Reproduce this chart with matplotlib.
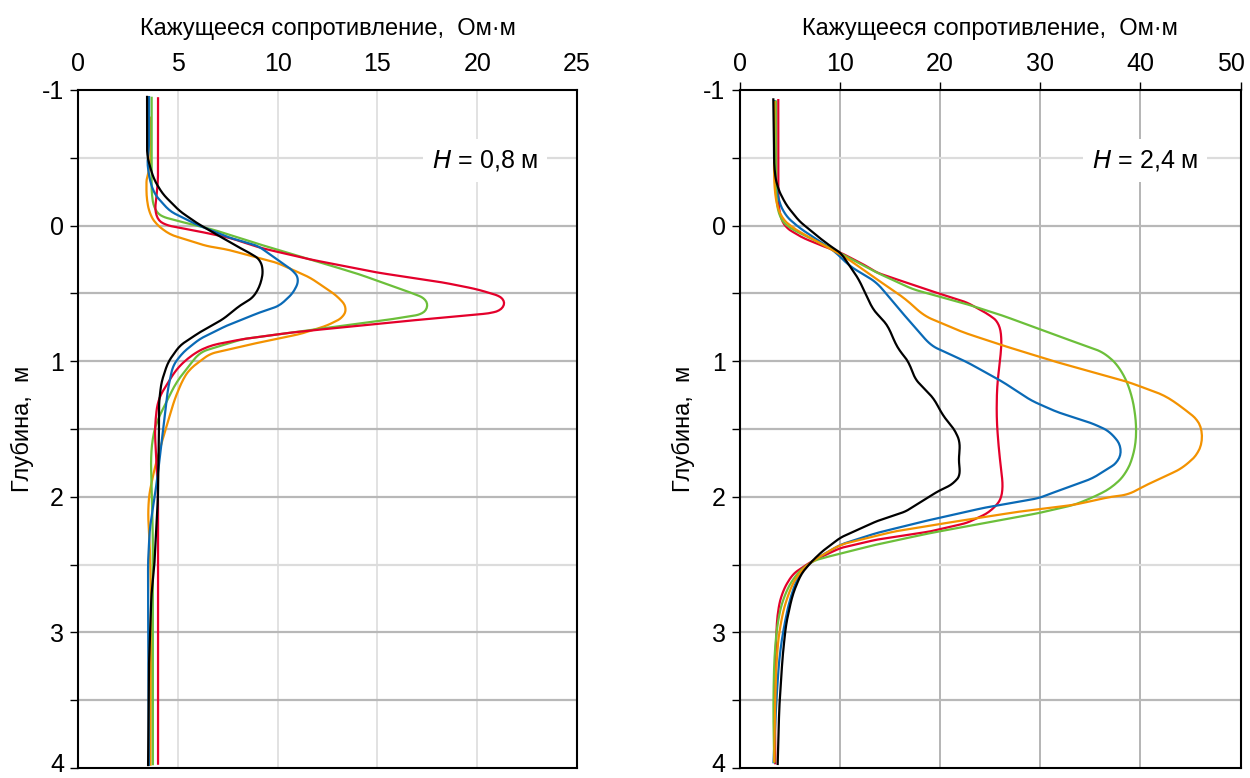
import numpy as np
import matplotlib.pyplot as plt
from matplotlib.transforms import ScaledTranslation

plt.rcParams['font.family'] = ['Liberation Sans Narrow', 'Liberation Sans', 'DejaVu Sans']

# ---- left panel, H = 0.8 m : (resistivity, depth)
l_red_r = [4.01, 4.01, 4.0, 3.9, 3.84, 4.26, 5.94, 7.6, 9.12, 11.6, 15.0, 18.3, 20.0, 21.35, 21.5, 21.35,
           20.8, 17.5, 14.1, 10.8, 8.3, 6.6, 5.77, 4.93, 4.43, 4.0, 3.93, 3.84, 3.93, 4.01, 4.01]
l_red_d = [-0.97, -0.4, -0.28, -0.2, -0.057, -0.007, 0.04, 0.09, 0.164, 0.249, 0.347, 0.42, 0.47, 0.53, 0.567, 0.615,
           0.645, 0.689, 0.738, 0.787, 0.836, 0.885, 0.946, 1.056, 1.18, 1.277, 1.374, 1.497, 1.74, 1.985, 4.0]

l_green_r = [3.69, 3.69, 3.68, 3.84, 4.1, 5.1, 6.77, 9.12, 9.96, 11.63, 14.1, 16.66, 17.5, 17.6, 17.3, 15.8,
             13.3, 10.8, 8.28, 6.1, 5.44, 4.93, 4.43, 3.93, 3.73, 3.65, 3.7, 3.75, 3.75]
l_green_d = [-0.97, -0.4, -0.23, -0.106, -0.07, -0.03, 0.03, 0.14, 0.176, 0.249, 0.36, 0.494, 0.543, 0.604, 0.653, 0.689,
             0.738, 0.787, 0.836, 0.934, 1.058, 1.154, 1.30, 1.45, 1.57, 1.72, 1.985, 2.3, 4.0]

l_blue_r = [3.56, 3.56, 3.46, 3.6, 3.84, 4.6, 5.94, 7.6, 9.03, 9.96, 10.8, 11.1, 10.8, 10.1, 9.12, 7.45, 6.1,
            5.27, 4.76, 4.51, 4.35, 4.18, 3.93, 3.6, 3.51, 3.51, 3.55]
l_blue_d = [-0.97, -0.57, -0.47, -0.33, -0.23, -0.106, -0.007, 0.09, 0.151, 0.249, 0.335, 0.396, 0.494, 0.591, 0.64, 0.738, 0.836,
            0.934, 1.03, 1.20, 1.40, 1.62, 1.91, 2.23, 2.475, 2.72, 4.0]

l_orange_r = [3.63, 3.63, 3.43, 3.43, 3.6, 3.93, 4.6, 6.44, 7.45, 9.96, 11.63, 12.97, 13.5, 13.3, 12.47, 11.13,
              9.12, 6.6, 5.6, 5.27, 4.85, 4.6, 4.3, 3.84, 3.56, 3.51, 3.6, 3.66, 3.63]
l_orange_d = [-0.82, -0.42, -0.375, -0.2, -0.08, -0.007, 0.066, 0.151, 0.176, 0.274, 0.384, 0.518, 0.604, 0.677, 0.738, 0.80,
              0.861, 0.946, 1.058, 1.13, 1.277, 1.40, 1.545, 1.79, 1.985, 2.13, 2.38, 2.72, 4.0]

l_black_r = [3.46, 3.46, 3.63, 3.84, 4.26, 5.1, 5.94, 6.94, 8.1, 8.45, 9.12, 9.29, 9.12, 8.78, 8.1, 7.28, 6.1,
             5.1, 4.51, 4.18, 4.06, 4.06, 4.01, 3.84, 3.68, 3.56, 3.51]
l_black_d = [-0.97, -0.52, -0.42, -0.33, -0.23, -0.106, -0.02, 0.066, 0.164, 0.19, 0.249, 0.335, 0.445, 0.53, 0.591, 0.689, 0.787,
             0.885, 1.007, 1.154, 1.30, 1.45, 1.985, 2.475, 2.72, 3.21, 4.0]

# ---- right panel, H = 2.4 m
r_red_r = [3.87, 3.87, 3.87, 4.04, 4.64, 6.3, 8.3, 10.1, 12.65, 13.7, 19.1, 22.7, 24.8, 25.9, 26.2, 26.1, 25.7,
           25.65, 25.9, 26.3, 26.3, 25.9, 24.8, 22.7, 19.1, 13.7, 10.1, 7.23, 5.3, 4.3, 3.8, 3.64, 3.54, 3.57]
r_red_d = [-0.96, -0.277, -0.18, -0.056, 0.017, 0.09, 0.151, 0.20, 0.298, 0.347, 0.482, 0.567, 0.653, 0.714, 0.811, 0.934, 1.178,
           1.423, 1.668, 1.913, 1.985, 2.045, 2.12, 2.193, 2.255, 2.316, 2.377, 2.475, 2.57, 2.695, 2.84, 3.06, 3.43, 4.0]

r_green_r = [3.64, 3.64, 3.64, 3.9, 4.97, 6.97, 8.64, 10.3, 13.7, 17.3, 22.7, 26.3, 29.9, 33.5, 36.3, 37.8, 39.0,
             39.6, 39.65, 39.4, 38.5, 37.0, 35.4, 33.45, 29.9, 24.5, 19.1, 13.7, 9.03, 7.23, 5.64, 4.47, 3.8,
             3.47, 3.37, 3.47]
r_green_d = [-0.96, -0.33, -0.18, -0.056, 0.017, 0.09, 0.151, 0.213, 0.347, 0.47, 0.58, 0.665, 0.763, 0.86, 0.934, 1.03, 1.20,
             1.423, 1.545, 1.69, 1.84, 1.94, 2.0, 2.059, 2.12, 2.193, 2.267, 2.352, 2.438, 2.475, 2.57, 2.72, 2.91,
             3.18, 3.55, 4.0]

r_blue_r = [3.5, 3.43, 3.8, 4.47, 5.97, 7.97, 9.47, 10.97, 13.7, 16.2, 19.1, 22.7, 26.3, 29.1, 31.65, 35.25, 37.0,
            38.3, 37.9, 35.25, 31.65, 29.9, 24.5, 19.1, 13.7, 10.1, 7.23, 5.97, 5.14, 4.47, 3.97, 3.64, 3.37]
r_blue_d = [-0.96, -0.40, -0.20, -0.08, 0.017, 0.115, 0.188, 0.298, 0.42, 0.64, 0.885, 1.007, 1.154, 1.29, 1.374, 1.46, 1.52,
            1.643, 1.74, 1.864, 1.96, 2.01, 2.08, 2.169, 2.267, 2.352, 2.475, 2.57, 2.72, 2.94, 3.18, 3.55, 4.0]

r_orange_r = [3.5, 3.43, 3.57, 3.97, 5.3, 7.3, 9.15, 10.65, 13.7, 16.6, 18.4, 22.3, 26.3, 31.65, 38.8, 42.4, 43.9,
              44.95, 46.0, 46.4, 46.0, 44.2, 40.6, 38.8, 37.05, 33.45, 28.07, 22.7, 15.5, 10.1, 7.23, 5.8, 4.8,
              4.04, 3.7, 3.54, 3.47]
r_orange_d = [-0.96, -0.33, -0.18, -0.07, 0.017, 0.10, 0.176, 0.237, 0.396, 0.543, 0.665, 0.787, 0.885, 1.007, 1.154, 1.252, 1.325,
              1.387, 1.447, 1.545, 1.668, 1.79, 1.913, 1.985, 2.0, 2.059, 2.108, 2.169, 2.255, 2.352, 2.475, 2.57, 2.72,
              2.94, 3.18, 3.55, 4.0]

r_black_r = [3.37, 3.47, 3.8, 4.64, 5.97, 7.97, 9.3, 10.1, 11.9, 13.3, 14.8, 15.5, 15.85, 16.9, 17.5, 19.4, 20.3,
             21.6, 22.1, 21.8, 22.1, 21.2, 19.8, 17.65, 16.6, 13.7, 10.1, 8.3, 7.23, 6.14, 5.3, 4.64, 4.3, 3.97, 3.8]
r_black_d = [-0.96, -0.40, -0.277, -0.154, -0.032, 0.09, 0.164, 0.20, 0.396, 0.616, 0.738, 0.86, 0.91, 1.007, 1.13, 1.277, 1.40,
             1.52, 1.62, 1.717, 1.84, 1.91, 1.96, 2.059, 2.108, 2.18, 2.30, 2.40, 2.475, 2.57, 2.72, 2.94, 3.18, 3.55, 4.0]

left_curves = [(l_orange_r, l_orange_d, '#f39200'), (l_green_r, l_green_d, '#6cbf3a'),
               (l_red_r, l_red_d, '#e4002b'), (l_blue_r, l_blue_d, '#0a6ab6'),
               (l_black_r, l_black_d, 'black')]
right_curves = [(r_red_r, r_red_d, '#e4002b'), (r_blue_r, r_blue_d, '#0a6ab6'),
                (r_green_r, r_green_d, '#6cbf3a'), (r_orange_r, r_orange_d, '#f39200'),
                (r_black_r, r_black_d, 'black')]


def smooth(r, d, n=400):
    # resample along the curve and run a short moving average
    r = np.asarray(r, float)
    d = np.asarray(d, float)
    t = np.concatenate([[0], np.cumsum(np.hypot(np.diff(r) / 25.0, np.diff(d) / 5.0))])
    tt = np.linspace(0, t[-1], n)
    rr = np.interp(tt, t, r)
    dd = np.interp(tt, t, d)
    k = np.ones(7) / 7
    rs = np.convolve(np.pad(rr, 3, mode='edge'), k, mode='valid')
    ds = np.convolve(np.pad(dd, 3, mode='edge'), k, mode='valid')
    return rs, ds


fig = plt.figure(figsize=(12.5, 7.78), dpi=100)
ax1 = fig.add_axes([0.0624, 0.0129, 0.3992, 0.8715])
ax2 = fig.add_axes([0.5916, 0.0129, 0.4008, 0.8715])

panels = [(ax1, left_curves, 25, [0, 5, 10, 15, 20, 25], '#e2e2e2', '$\\it{H}$ = 0,8 м', 20.4),
          (ax2, right_curves, 50, [0, 10, 20, 30, 40, 50], '#b4b4b4', '$\\it{H}$ = 2,4 м', 40.5)]

for ax, curves, xmax, xt, vcol, label, lx in panels:
    ax.set_xlim(0, xmax)
    ax.set_ylim(4, -1)
    ax.xaxis.tick_top()
    ax.xaxis.set_label_position('top')
    ax.set_xticks(xt)
    ax.set_yticks([-1, 0, 1, 2, 3, 4])
    ax.set_yticks([-0.5, 0.5, 1.5, 2.5, 3.5], minor=True)
    ax.set_yticklabels(['-1', '0', '1', '2', '3', '4'])
    ax.tick_params(axis='both', which='major', labelsize=18, direction='out', length=6, width=1, pad=4)
    ax.tick_params(axis='y', which='minor', direction='out', length=6, width=1)
    if ax is ax1:
        ax.tick_params(axis='x', length=0, pad=10)
    for v in xt[1:-1]:
        ax.axvline(v, color=vcol, lw=1.4, zorder=0)
    for h in [-0.5, 0, 0.5, 1, 1.5, 2, 2.5, 3, 3.5]:
        c = '#dcdcdc' if h in (-0.5, 2.5) else '#b8b8b8'
        ax.axhline(h, color=c, lw=1.6, zorder=0)
    for r, d, c in curves:
        rs, ds = smooth(r, d)
        ax.plot(rs, ds, color=c, lw=1.6, solid_capstyle='butt', zorder=2)
    for s in ax.spines.values():
        s.set_linewidth(1.5)
    ax.set_xlabel('Кажущееся сопротивление,  Ом·м', fontsize=17, labelpad=12)
    ax.set_ylabel('Глубина,  м', fontsize=17, labelpad=6)
    ax.text(lx, -0.48, label, fontsize=18, ha='center', va='center', zorder=3,
            bbox=dict(boxstyle='square,pad=0.35', fc='white', ec='none'))
    # lift the bottom "4" a little so it stays inside the figure
    bottom = ax.get_yticklabels()[-1]
    bottom.set_transform(bottom.get_transform() + ScaledTranslation(0, 4 / 72, fig.dpi_scale_trans))

# keep the last tick label of the right panel inside the figure
last = ax2.get_xticklabels()[-1]
last.set_transform(last.get_transform() + ScaledTranslation(-7 / 72, 0, fig.dpi_scale_trans))

fig.savefig('out.png', dpi=100)
